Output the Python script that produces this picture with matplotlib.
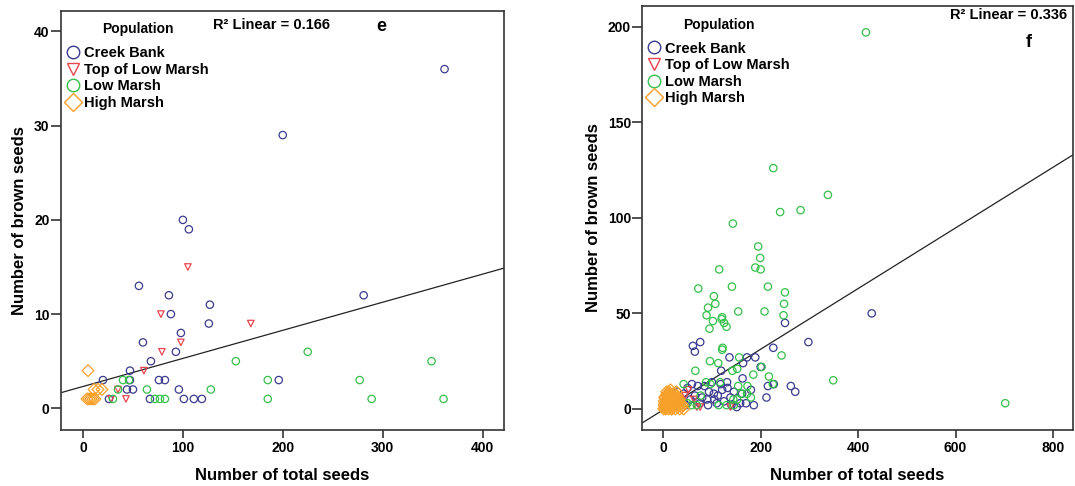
import matplotlib.pyplot as plt
from matplotlib.lines import Line2D

# ---- panel e data (total seeds, brown seeds) ----
creek_e = [(362, 36), (200, 29), (100, 20), (106, 19), (56, 13), (86, 12), (281, 12),
           (127, 11), (88, 10), (126, 9), (98, 8), (60, 7), (93, 6), (68, 5), (47, 4),
           (20, 3), (47, 3), (76, 3), (82, 3), (196, 3), (44, 2), (50, 2), (96, 2),
           (26, 1), (67, 1), (101, 1), (111, 1), (119, 1)]
top_e = [(105, 15), (78, 10), (168, 9), (98, 7), (79, 6), (61, 4), (35, 2), (28, 1), (43, 1)]
low_e = [(225, 6), (153, 5), (349, 5), (40, 3), (46, 3), (185, 3), (277, 3), (35, 2),
         (64, 2), (128, 2), (30, 1), (72, 1), (77, 1), (82, 1), (185, 1), (289, 1), (361, 1)]
high_e = [(5, 4), (11, 2), (15, 2), (19, 2), (4, 1), (6, 1), (8, 1), (10, 1), (12, 1)]
fit_e = (2.32, 0.0298)  # intercept, slope
r2_e = 0.166

# ---- panel f data ----
creek_f = [(428, 50), (250, 45), (298, 35), (76, 35), (61, 33), (65, 30), (226, 32),
           (136, 27), (172, 27), (189, 27), (164, 24), (200, 22), (119, 20), (163, 16),
           (227, 13), (262, 12), (271, 9), (215, 12), (212, 6), (186, 2), (151, 1),
           (59, 13), (71, 12), (118, 13), (131, 14), (132, 11), (121, 10), (104, 8),
           (94, 9), (80, 6), (90, 5), (92, 2), (75, 3), (56, 5), (42, 8), (29, 9),
           (46, 2), (105, 5), (138, 6), (158, 3), (162, 8), (50, 11), (85, 12),
           (110, 3), (125, 4), (145, 9), (100, 14), (65, 7), (38, 4), (112, 7),
           (140, 2), (170, 3), (180, 10)]
top_f = [(52, 10), (69, 1), (63, 5), (138, 1), (76, 1), (35, 5), (45, 7)]
low_f = [(416, 197), (226, 126), (338, 112), (240, 103), (282, 104), (143, 97),
         (195, 85), (199, 79), (189, 74), (200, 73), (115, 73), (72, 63), (141, 64),
         (215, 64), (250, 61), (104, 59), (248, 55), (107, 55), (92, 53), (154, 51),
         (208, 51), (89, 49), (247, 49), (121, 48), (120, 47), (102, 46), (125, 45),
         (95, 42), (130, 43), (122, 32), (121, 31), (156, 27), (243, 28), (96, 25),
         (113, 24), (202, 22), (152, 21), (142, 20), (66, 20), (217, 17), (349, 15),
         (702, 3), (88, 14), (42, 13), (225, 13), (173, 12), (154, 12), (172, 8),
         (144, 5), (152, 5), (114, 2), (130, 2), (58, 2), (69, 2), (145, 2),
         (97, 13), (117, 14), (77, 7), (185, 18), (160, 8), (50, 3), (180, 6)]
high_f = [(1, 0), (2, 2), (3, 1), (4, 3), (5, 0), (6, 4), (7, 2), (8, 1), (9, 5),
          (10, 3), (11, 0), (12, 6), (13, 2), (14, 4), (15, 1), (16, 7), (17, 3),
          (18, 0), (19, 5), (20, 2), (21, 8), (22, 1), (23, 4), (24, 6), (25, 0),
          (26, 3), (27, 9), (28, 2), (29, 5), (30, 1), (32, 4), (34, 0), (36, 3),
          (38, 1), (40, 2), (42, 0), (3, 6), (6, 7), (9, 8), (12, 9), (15, 10),
          (18, 5), (21, 6), (24, 8), (27, 7), (30, 6), (33, 5), (8, 3), (14, 2),
          (20, 1), (26, 4), (5, 1), (11, 1), (17, 0), (2, 4), (4, 6), (7, 9),
          (10, 7), (13, 8), (16, 4), (19, 3), (22, 3), (25, 2), (31, 3), (35, 2)]
fit_f = (-0.46, 0.1586)
r2_f = 0.336

groups = ["Creek Bank", "Top of Low Marsh", "Low Marsh", "High Marsh"]
colors = ["#3b3b8f", "#e8464e", "#35c04a", "#f7a02a"]
markers = ["o", "v", "o", "D"]
sizes = [28, 22, 28, 36]

sans = ["Liberation Sans", "DejaVu Sans"]


def draw_panel(ax, series, fit, r2, letter, xlim, ylim, xticks, yticks,
               r2_pos, letter_pos, r2_ha):
    for pts, c, m, s in zip(series, colors, markers, sizes):
        xs = [p[0] for p in pts]
        ys = [p[1] for p in pts]
        ax.scatter(xs, ys, s=s, marker=m, facecolors="none", edgecolors=c,
                   linewidths=0.9, zorder=3)
    ax.axline((0, fit[0]), slope=fit[1], color="#222222", lw=0.9, zorder=2)
    ax.set_xlim(*xlim)
    ax.set_ylim(*ylim)
    ax.set_xticks(xticks)
    ax.set_yticks(yticks)
    for sp in ax.spines.values():
        sp.set_color("#333333")
        sp.set_linewidth(1.2)
    ax.tick_params(axis="x", length=6, width=1.2, color="#333333", pad=2)
    ax.tick_params(axis="y", length=7, width=1.2, color="#333333", pad=1)
    for lab in ax.get_xticklabels() + ax.get_yticklabels():
        lab.set_family(sans)
        lab.set_fontweight("bold")
        lab.set_fontsize(10)
    ax.set_xlabel("Number of total seeds", family=sans, fontweight="bold",
                  fontsize=12, labelpad=9)
    ax.set_ylabel("Number of brown seeds", family=sans, fontweight="bold",
                  fontsize=12, labelpad=5)

    ax.text(r2_pos[0], r2_pos[1], f"R\u00b2 Linear = {r2:.3f}", transform=ax.transAxes,
            ha=r2_ha, va="center", family=sans, fontweight="bold", fontsize=10.5)
    ax.text(letter_pos[0], letter_pos[1], letter, transform=ax.transAxes,
            ha="center", va="center", family=sans, fontweight="bold", fontsize=13)

    handles = [Line2D([], [], ls="none", marker=m, markersize=9, mfc="none",
                      mec=c, mew=1.0)
               for m, c in zip(markers, colors)]
    leg = ax.legend(handles, groups, title="Population", loc="upper left",
                    bbox_to_anchor=(0.012, 0.972), frameon=False, borderpad=0,
                    borderaxespad=0, handlelength=1.0, handletextpad=0.25,
                    labelspacing=0.18, prop={"family": sans, "weight": "bold", "size": 10.5},
                    title_fontproperties={"family": sans, "weight": "bold", "size": 10})
    leg._legend_box.sep = 7


fig = plt.figure(figsize=(10.75, 4.86), dpi=100)
ax1 = fig.add_axes([0.0565, 0.1152, 0.4125, 0.8628])
ax2 = fig.add_axes([0.5972, 0.1152, 0.4009, 0.8725])

draw_panel(ax1, [creek_e, top_e, low_e, high_e], fit_e, r2_e, "e",
           (-22.3, 421.7), (-2.3, 42.2), [0, 100, 200, 300, 400], [0, 10, 20, 30, 40],
           (0.343, 0.966), (0.722, 0.963), "left")
draw_panel(ax2, [creek_f, top_f, low_f, high_f], fit_f, r2_f, "f",
           (-43.5, 841), (-11, 210.8), [0, 200, 400, 600, 800], [0, 50, 100, 150, 200],
           (0.986, 0.979), (0.898, 0.913), "right")

fig.savefig("out.png", dpi=100)
